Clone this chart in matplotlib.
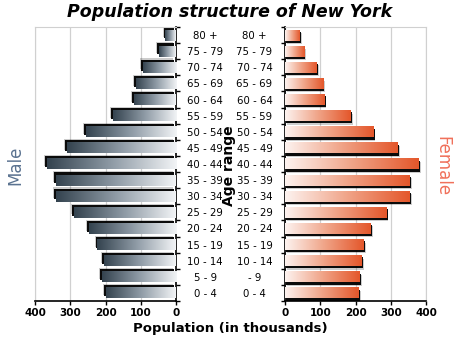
import matplotlib.pyplot as plt
import numpy as np
from matplotlib.colors import LinearSegmentedColormap
from matplotlib.patches import Rectangle

# Age groups from oldest (top) to youngest (bottom)
age_groups = ["80 +", "75 - 79", "70 - 74", "65 - 69", "60 - 64", "55 - 59",
              "50 - 54", "45 - 49", "40 - 44", "35 - 39", "30 - 34", "25 - 29",
              "20 - 24", "15 - 19", "10 - 14", "5 - 9", "0 - 4"]
female_labels = age_groups[:15] + ["- 9", "0 - 4"]

# Population in thousands
male = [30, 48, 94, 114, 119, 179, 256, 310, 366, 340, 340, 289, 248, 223, 204, 210, 198]
female = [42, 54, 89, 108, 111, 186, 250, 319, 378, 353, 353, 287, 242, 223, 217, 212, 209]
x_ticks = [0, 100, 200, 300, 400]

male_cmap = LinearSegmentedColormap.from_list("male", ["#34434f", "#8f9ba6", "#f2f4f6"])
female_cmap = LinearSegmentedColormap.from_list("female", ["#fdf3f0", "#f0a488", "#e4572b"])

fig = plt.figure(figsize=(4.6, 3.45), dpi=100)
ax_m = fig.add_axes([0.0761, 0.1275, 0.3065, 0.7942])
ax_f = fig.add_axes([0.6196, 0.1275, 0.3065, 0.7942])

n = len(age_groups)
ypos = np.arange(n)[::-1]
bar_h = 0.68
grad = np.linspace(0, 1, 256).reshape(1, -1)


def draw_bars(ax, values, cmap, side):
    for y, v in zip(ypos, values):
        x0, x1 = (-v, 0) if side == "left" else (0, v)
        # black drop shadow: up-left for males, down-right for females
        dx = -5 if side == "left" else 4
        dy = 0.14 if side == "left" else -0.14
        ax.add_patch(Rectangle((x0 + 1.6 * dx, y - bar_h / 2 + 1.5 * dy), x1 - x0, bar_h,
                               color="black", alpha=0.2, lw=0, zorder=2))
        ax.add_patch(Rectangle((x0 + dx, y - bar_h / 2 + dy), x1 - x0, bar_h,
                               color="black", alpha=0.95, lw=0, zorder=2))
        ax.imshow(grad, cmap=cmap, aspect="auto", interpolation="bilinear",
                  extent=[x0, x1, y - bar_h / 2, y + bar_h / 2], zorder=3)
    ax.set_xlim(-400, 0) if side == "left" else ax.set_xlim(0, 400)
    ax.set_ylim(-0.5, n - 0.5)


draw_bars(ax_m, male, male_cmap, "left")
draw_bars(ax_f, female, female_cmap, "right")

for ax, side in [(ax_m, "left"), (ax_f, "right")]:
    ticks = [-t for t in x_ticks] if side == "left" else x_ticks
    ax.set_xticks(ticks)
    ax.set_xticklabels([str(t) for t in x_ticks], fontsize=7.5, fontweight="bold")
    ax.grid(axis="x", color="#d0d0d0", lw=0.9, zorder=0)
    ax.set_axisbelow(True)
    ax.tick_params(axis="x", length=3, width=1, pad=2)
    ax.set_yticks(np.arange(n + 1) - 0.5, minor=True)
    ax.set_yticks(ypos)
    ax.tick_params(axis="y", which="major", length=0, labelsize=7.3)
    ax.tick_params(axis="y", which="minor", length=3, width=1)
    for s in ["top", "left", "right", "bottom"]:
        ax.spines[s].set_color("#d0d0d0")
    ax.spines["bottom"].set_color("black")
    ax.spines["bottom"].set_linewidth(1.2)

ax_m.yaxis.tick_right()
ax_m.set_yticklabels(age_groups, ha="center")
ax_m.tick_params(axis="y", which="major", pad=21)
ax_m.spines["right"].set_color("black")
ax_m.spines["right"].set_linewidth(1.2)

ax_f.set_yticklabels(female_labels, ha="center")
ax_f.tick_params(axis="y", which="major", pad=22)
ax_f.spines["left"].set_color("black")
ax_f.spines["left"].set_linewidth(1.2)

fig.text(0.5, 0.965, "Population structure of New York", ha="center", va="center",
         fontsize=12.5, fontweight="bold", fontstyle="italic")
fig.text(0.5, 0.048, "Population (in thousands)", ha="center", va="center",
         fontsize=9.5, fontweight="bold")
fig.text(0.497, 0.52, "Age range", ha="center", va="center", rotation=90,
         fontsize=10, fontweight="bold")
fig.text(0.033, 0.52, "Male", ha="center", va="center", rotation=90,
         fontsize=12, color="#5a7290")
fig.text(0.962, 0.52, "Female", ha="center", va="center", rotation=-90,
         fontsize=12, color="#f0705a")

fig.savefig("out.png", dpi=100)
